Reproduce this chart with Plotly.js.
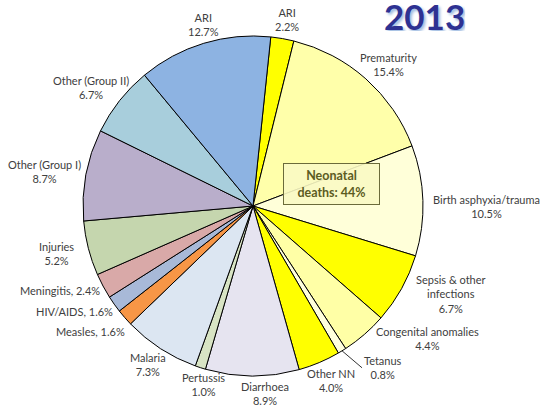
<!DOCTYPE html>
<html>
<head>
<meta charset="utf-8">
<script src="https://cdn.plot.ly/plotly-3.0.1.min.js"></script>
<style>html,body{margin:0;padding:0;background:#fff;}#chart{width:540px;height:407px;}</style>
</head>
<body>
<div id="chart"></div>
<script>
// ---- data ----
var categories = ["ARI (neonatal)", "Prematurity", "Birth asphyxia/trauma", "Sepsis & other infections",
  "Congenital anomalies", "Tetanus", "Other NN", "Diarrhoea", "Pertussis", "Malaria", "Measles",
  "HIV/AIDS", "Meningitis", "Injuries", "Other (Group I)", "Other (Group II)", "ARI"];
var values = [2.2, 15.4, 10.5, 6.7, 4.4, 0.8, 4.0, 8.9, 1.0, 7.3, 1.6, 1.6, 2.4, 5.2, 8.7, 6.7, 12.7];
var sliceLabels = ["ARI<br>2.2%", "Prematurity<br>15.4%", "Birth asphyxia/trauma<br>10.5%",
  "Sepsis & other<br>infections<br>6.7%", "Congenital anomalies<br>4.4%", "Tetanus<br>0.8%",
  "Other NN<br>4.0%", "Diarrhoea<br>8.9%", "Pertussis<br>1.0%", "Malaria<br>7.3%",
  "Measles, 1.6%", "HIV/AIDS, 1.6%", "Meningitis, 2.4%", "Injuries<br>5.2%",
  "Other (Group I)<br>8.7%", "Other (Group II)<br>6.7%", "ARI<br>12.7%"];
var colors = ["#FFFF00", "#FFFFAA", "#FFFFD9", "#FFFF00", "#FFFFA6", "#FFFFDD", "#FFFF00",
  "#E6E4F0", "#D8E4C4", "#DCE6F2", "#F79646", "#A8B9D8", "#D9A9A8", "#C5D6AE", "#B9AECB",
  "#A8CEDC", "#8DB3E2"];
var titleText = "2013";
var boxText = "Neonatal<br>deaths: 44%";

// ---- layout constants ----
var W = 540, H = 407;
var cx = 253, cy = 206, R = 170;      // pie centre and radius in px
var rotation = 6;                      // degrees clockwise from 12 o'clock
var labelGap = 5;
var labelFont = {family: "Lato, 'Open Sans', sans-serif", size: 11, color: "#404040"};
var lineH = 14.3;
// small label nudges (px) to mimic the original label placement
var labelNudge = {
  "ARI (neonatal)": [2, 0], "Birth asphyxia/trauma": [5, 7], "Sepsis & other infections": [15, -8],
  "Congenital anomalies": [26, -11], "Diarrhoea": [13, -2], "Pertussis": [11, -1],
  "Measles": [-5, 6], "HIV/AIDS": [-4, 0], "Meningitis": [-3, -1], "Injuries": [-10, 0],
  "Other (Group II)": [5, -1], "ARI": [6, 0]
};
var calloutLabels = {"Tetanus": {dx: 20, dy: 17}};

var canvas = document.createElement("canvas");
var ctx = canvas.getContext("2d");
ctx.font = labelFont.size + "px Lato";
function textBox(t) {
  var lines = t.split("<br>");
  var w = 0;
  lines.forEach(function (l) { w = Math.max(w, ctx.measureText(l).width); });
  return {w: w, h: lines.length * lineH};
}

var total = values.reduce(function (a, b) { return a + b; }, 0);
var annotations = [];
var cum = 0;
for (var i = 0; i < values.length; i++) {
  var mid = rotation + (cum + values[i] / 2) / total * 360;
  cum += values[i];
  var th = mid * Math.PI / 180;
  var s = Math.sin(th), c = Math.cos(th);
  var b = textBox(sliceLabels[i]);
  var co = calloutLabels[categories[i]];
  if (co) {
    var ex = cx + R * s, ey = cy - R * c;
    annotations.push({text: sliceLabels[i], xref: "paper", yref: "paper",
      x: ex / W, y: 1 - ey / H, ax: co.dx, ay: co.dy, showarrow: true, arrowhead: 0,
      arrowwidth: 0.8, arrowcolor: "#000000", standoff: 0, xanchor: "left", yanchor: "middle",
      align: "center", font: labelFont});
  } else {
    var nd = labelNudge[categories[i]] || [0, 0];
    var px = cx + (R + labelGap) * s + s * b.w / 2 + nd[0];
    var py = cy - (R + labelGap) * c - c * b.h / 2 + nd[1];
    annotations.push({text: sliceLabels[i], xref: "paper", yref: "paper",
      x: px / W, y: 1 - py / H, xanchor: "center", yanchor: "middle", showarrow: false,
      align: "center", font: labelFont});
  }
}

annotations.push({text: titleText, xref: "paper", yref: "paper", x: 424 / W, y: 1,
  xanchor: "center", yanchor: "top", showarrow: false, height: 30, borderpad: 0,
  font: {family: "Lato, 'Open Sans', sans-serif", size: 35, color: "#2E3192", weight: "bold",
    shadow: "2px 2px 3px #9ab8e0"}});
annotations.push({text: boxText, xref: "paper", yref: "paper", x: 331.5 / W, y: 1 - 183.5 / H,
  xanchor: "center", yanchor: "middle", showarrow: false, bgcolor: "rgba(250,250,195,0.9)",
  bordercolor: "#6b6b3a", borderwidth: 1, borderpad: 4, width: 87, height: 32,
  font: {family: "Lato, 'Open Sans', sans-serif", size: 12.5, color: "#5c5c1f", weight: "bold"}});

var trace = {
  type: "pie",
  labels: categories,
  values: values,
  textinfo: "none",
  hoverinfo: "label+value",
  sort: false,
  direction: "clockwise",
  rotation: rotation,
  marker: {colors: colors, line: {color: "#000000", width: 1}},
  domain: {x: [(cx - R) / W, (cx + R) / W], y: [1 - (cy + R) / H, 1 - (cy - R) / H]},
  showlegend: false
};

var layout = {
  width: W, height: H,
  margin: {l: 0, r: 0, t: 0, b: 0},
  paper_bgcolor: "#ffffff",
  showlegend: false,
  annotations: annotations
};

Plotly.newPlot("chart", [trace], layout, {staticPlot: true, displayModeBar: false});
</script>
</body>
</html>
